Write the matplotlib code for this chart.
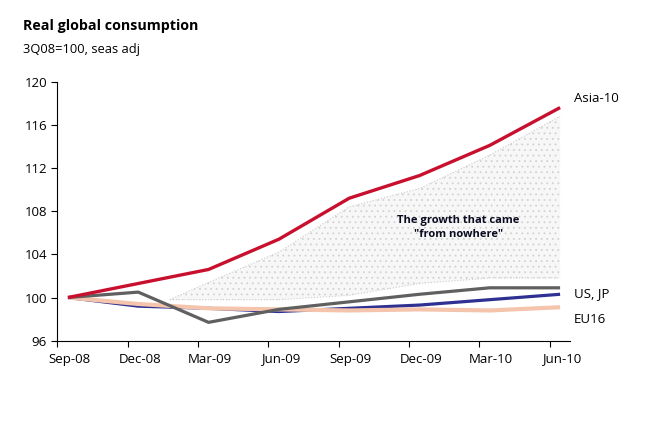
import matplotlib
matplotlib.use("Agg")
import matplotlib.pyplot as plt
import numpy as np

quarters = ["Sep-08", "Dec-08", "Mar-09", "Jun-09", "Sep-09", "Dec-09", "Mar-10", "Jun-10"]
asia10 = [100.0, 101.3, 102.6, 105.4, 109.2, 111.3, 114.1, 117.6]
us = [100.0, 100.5, 97.7, 98.9, 99.6, 100.3, 100.9, 100.9]
jp = [100.0, 99.2, 99.0, 98.7, 99.0, 99.3, 99.8, 100.3]
eu16 = [100.0, 99.4, 99.0, 98.9, 98.8, 98.9, 98.8, 99.1]

shade_x = [1.45, 2.0, 3.0, 4.0, 5.0, 6.0, 7.0]
shade_upper = [99.8, 101.4, 104.2, 108.4, 110.1, 113.2, 116.8]
shade_lower = [99.8, 99.8, 99.8, 100.2, 101.3, 101.8, 101.8]

yticks = [96, 100, 104, 108, 112, 116, 120]

plt.rcParams['font.family'] = ['Open Sans', 'DejaVu Sans']
plt.rcParams['hatch.linewidth'] = 0.6

fig = plt.figure(figsize=(6.53, 4.23), dpi=100)
ax = fig.add_axes([0.0868, 0.1946, 0.786, 0.6123])

x = np.arange(len(quarters))

ax.fill_between(shade_x, shade_lower, shade_upper, facecolor='#f7f7f7',
                edgecolor='#d2d2d2', hatch='...', linewidth=0, zorder=1)
ax.plot(shade_x, shade_upper, color='#cccccc', lw=0.8, ls=':', zorder=1.5)
ax.plot(shade_x, shade_lower, color='#cccccc', lw=0.8, ls=':', zorder=1.5)

ax.plot(x, jp, color='#2E3192', lw=2.3, zorder=3, solid_capstyle='butt')
ax.plot(x, eu16, color='#F5C4AC', lw=3.0, zorder=4, solid_capstyle='butt')
ax.plot(x, us, color='#606060', lw=2.3, zorder=5, solid_capstyle='butt')
ax.plot(x, asia10, color='#C8102E', lw=2.4, zorder=6, solid_capstyle='butt')

ax.set_xlim(-0.16, 7.14)
ax.set_ylim(96, 120)
ax.set_yticks(yticks)
ax.set_yticklabels([str(v) for v in yticks], fontsize=9.5)
ax.set_xticks(x - 0.15)
ax.set_xticklabels([])
for i, q in enumerate(quarters):
    ax.text(i + 0.02, 94.9, q, ha='center', va='top', fontsize=9.5)

ax.tick_params(axis='both', direction='out', length=4, width=0.8, color='black', pad=3)
for s in ['top', 'right']:
    ax.spines[s].set_visible(False)
ax.spines['left'].set_linewidth(0.8)
ax.spines['bottom'].set_linewidth(0.8)

ax.text(7.2, asia10[-1] + 0.8, "Asia-10", fontsize=9.5, va='center', ha='left', clip_on=False)
ax.text(7.2, 100.4, "US, JP", fontsize=9.5, va='center', ha='left', clip_on=False)
ax.text(7.2, 98.0, "EU16", fontsize=9.5, va='center', ha='left', clip_on=False)

ax.text(5.55, 106.5, "The growth that came\n\"from nowhere\"", fontsize=8,
        fontweight='bold', ha='center', va='center', color='#0a0a20',
        linespacing=1.3, zorder=7)

fig.text(23 / 653, 1 - 26 / 423, "Real global consumption", fontsize=10.3,
         fontweight='bold', ha='left', va='center')
fig.text(23 / 653, 1 - 50 / 423, "3Q08=100, seas adj", fontsize=9.3,
         ha='left', va='center')

fig.savefig("out.png", dpi=100)
